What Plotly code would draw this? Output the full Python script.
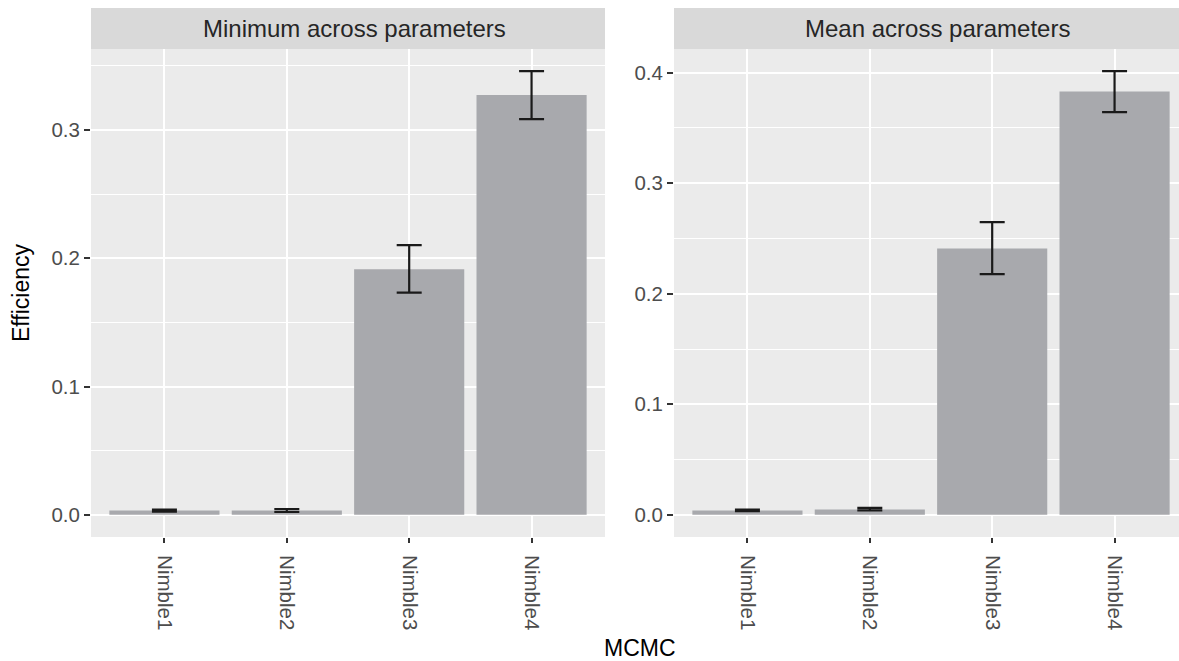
import plotly.graph_objects as go

# ---- data ----
categories = ["Nimble1", "Nimble2", "Nimble3", "Nimble4"]
panel_titles = ["Minimum across parameters", "Mean across parameters"]

min_eff = [0.0033, 0.0033, 0.1914, 0.3274]
min_lo = [0.0025, 0.0022, 0.1732, 0.3085]
min_hi = [0.0041, 0.0045, 0.2102, 0.3459]

mean_eff = [0.0039, 0.0048, 0.2410, 0.3830]
mean_lo = [0.0033, 0.0040, 0.2178, 0.3644]
mean_hi = [0.0047, 0.0062, 0.2649, 0.4014]

y_ticks = [0.0, 0.1, 0.2, 0.3, 0.4]

# ---- styling ----
W, H = 1179, 661
BAR = "#A8A9AD"
PANEL = "#EBEBEB"
STRIP = "#D9D9D9"
FONT = "Liberation Sans, Arial, sans-serif"
TICKCOL = "#4D4D4D"

def px_x(p):
    return p / W

def px_y(p):
    return 1 - p / H

ydom = [px_y(537), px_y(49)]
dom_left = [px_x(91), px_x(605)]
dom_right = [px_x(674), 1.0]
unit_px = (605 - 91) / 4.2
right_extent = (W - 674) / unit_px  # panel cut at image edge

fig = go.Figure()

series = [
    (min_eff, min_lo, min_hi, "x", "y"),
    (mean_eff, mean_lo, mean_hi, "x2", "y2"),
]
for vals, lo, hi, xa, ya in series:
    fig.add_trace(go.Bar(
        x=categories, y=vals, xaxis=xa, yaxis=ya,
        marker=dict(color=BAR, line=dict(width=0)),
        width=0.9, showlegend=False, hoverinfo="skip",
        error_y=dict(
            type="data", symmetric=False,
            array=[h - v for h, v in zip(hi, vals)],
            arrayminus=[v - l for v, l in zip(vals, lo)],
            color="#1A1A1A", thickness=2.2, width=12.5,
        ),
    ))

def yrange(hi):
    m = max(hi)
    return [-0.05 * m, 1.05 * m]

common_x = dict(
    type="category", showgrid=True, gridcolor="white", gridwidth=2,
    ticks="outside", ticklen=5, tickwidth=1.5, tickcolor="#333333",
    tickangle=90, tickfont=dict(family=FONT, size=20.5, color=TICKCOL),
    ticklabelstandoff=8,
    showline=False, zeroline=False,
)
common_y = dict(
    showgrid=True, gridcolor="white", gridwidth=2,
    tickvals=y_ticks, tickformat=".1f",
    ticks="outside", ticklen=6, tickwidth=1.5, tickcolor="#333333",
    tickfont=dict(family=FONT, size=20.5, color=TICKCOL),
    minor=dict(dtick=0.05, tick0=0, showgrid=True, gridcolor="white", gridwidth=1),
    showline=False, zeroline=False, domain=ydom,
)

fig.update_layout(
    width=W, height=H,
    margin=dict(l=0, r=0, t=0, b=0),
    paper_bgcolor="white", plot_bgcolor=PANEL,
    bargap=0.1,
    xaxis=dict(common_x, domain=dom_left, range=[-0.6, 3.6], anchor="y"),
    yaxis=dict(common_y, range=yrange(min_hi), anchor="x"),
    xaxis2=dict(common_x, domain=dom_right, range=[-0.6, -0.6 + right_extent], anchor="y2"),
    yaxis2=dict(common_y, range=yrange(mean_hi), anchor="x2"),
)

# strips
strip_centers = [(91 + 605) / 2 + 6, 674 + 2.1 * unit_px + 6]
for dom, title, cxp in zip([dom_left, dom_right], panel_titles, strip_centers):
    fig.add_shape(type="rect", xref="paper", yref="paper",
                  x0=dom[0], x1=dom[1], y0=px_y(49), y1=px_y(8),
                  fillcolor=STRIP, line=dict(width=0), layer="below")
    fig.add_annotation(text=title, xref="paper", yref="paper",
                       x=px_x(cxp), y=px_y(29), showarrow=False,
                       xanchor="center", yanchor="middle",
                       font=dict(family=FONT, size=24, color="#262626"))

# axis titles
fig.add_annotation(text="MCMC", xref="paper", yref="paper",
                   x=px_x((91 + 674 + 4.2 * unit_px) / 2), y=px_y(648),
                   showarrow=False, xanchor="center", yanchor="middle",
                   font=dict(family=FONT, size=23, color="black"))
fig.add_annotation(text="Efficiency", xref="paper", yref="paper",
                   x=px_x(21), y=px_y(293), textangle=-90,
                   showarrow=False, xanchor="center", yanchor="middle",
                   font=dict(family=FONT, size=23, color="black"))

fig.write_html("out.html", config={"displayModeBar": False},
               post_script="document.body.style.margin='0';document.body.style.overflow='hidden';")
